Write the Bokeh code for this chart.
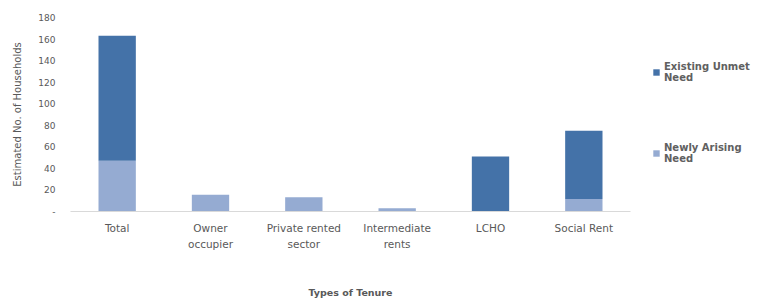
from bokeh.plotting import figure
from bokeh.models import FactorRange, Range1d, Legend, LegendItem, FixedTicker, ColumnDataSource
from bokeh.embed import file_html
from bokeh.resources import INLINE

categories = ["Total", "Owner\noccupier", "Private rented\nsector", "Intermediate\nrents", "LCHO", "Social Rent"]
newly_arising = [47, 15.5, 13.3, 3, 0, 11.5]
existing_unmet = [116, 0, 0, 0, 51, 63.5]
y_ticks = [0, 20, 40, 60, 80, 100, 120, 140, 160, 180]

DARK = "#4472a8"
LIGHT = "#95abd2"
TXT = "#595959"
FONT = "DejaVu Sans"

src = ColumnDataSource(dict(cat=categories, newly=newly_arising, existing=existing_unmet))

p = figure(x_range=FactorRange(*categories, range_padding=0), y_range=Range1d(0, 180),
           frame_width=560, frame_height=194, output_backend="svg", toolbar_location=None,
           min_border_left=70, min_border_right=121, min_border_top=17, min_border_bottom=88)

r = p.vbar_stack(["newly", "existing"], x="cat", width=0.4, source=src,
                 color=[LIGHT, DARK], line_color=None)

p.outline_line_color = None
p.grid.visible = False
p.background_fill_color = "white"

p.yaxis.ticker = FixedTicker(ticks=y_ticks)
p.yaxis.major_label_overrides = {0: "-"}
p.yaxis.axis_line_color = None
p.yaxis.major_tick_line_color = None
p.yaxis.minor_tick_line_color = None
p.yaxis.major_label_text_font = FONT
p.yaxis.major_label_text_font_size = "9px"
p.yaxis.major_label_text_color = TXT
p.yaxis.major_label_standoff = 9
p.yaxis.axis_label = "Estimated No. of Households"
p.yaxis.axis_label_text_font = FONT
p.yaxis.axis_label_text_font_size = "10px"
p.yaxis.axis_label_text_font_style = "normal"
p.yaxis.axis_label_text_color = TXT
p.yaxis.axis_label_standoff = 12

p.xaxis.axis_line_color = "#d9d9d9"
p.xaxis.axis_line_width = 1
p.xaxis.major_tick_line_color = None
p.xaxis.minor_tick_line_color = None
p.xaxis.major_label_text_font = FONT
p.xaxis.major_label_text_font_size = "10.5px"
p.xaxis.major_label_text_color = TXT
p.xaxis.major_label_text_line_height = 1.35
p.xaxis.major_label_standoff = 4
p.xaxis.axis_label = "Types of Tenure"
p.xaxis.axis_label_text_font = FONT
p.xaxis.axis_label_text_font_size = "9.5px"
p.xaxis.axis_label_text_font_style = "bold"
p.xaxis.axis_label_text_color = TXT
p.xaxis.axis_label_standoff = 34

legend = Legend(items=[LegendItem(label="Existing Unmet\nNeed", renderers=[r[1]]),
                       LegendItem(label="Newly Arising\nNeed", renderers=[r[0]])],
                location=(22, 47), orientation="vertical",
                label_text_font=FONT, label_text_font_size="10px", label_text_color="#606060",
                label_text_font_style="bold", label_text_line_height=1.6,
                glyph_width=8, glyph_height=8, label_standoff=4, spacing=59,
                border_line_color=None, background_fill_alpha=0, padding=0, margin=0)
p.add_layout(legend, "right")

open("out.html", "w").write(file_html(p, INLINE))
